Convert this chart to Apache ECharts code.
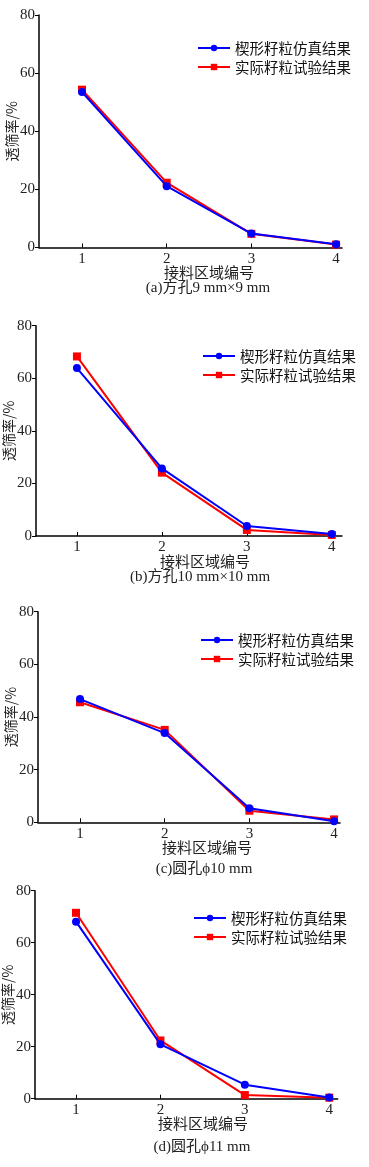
<!DOCTYPE html>
<html>
<head>
<meta charset="utf-8">
<script src="https://cdn.jsdelivr.net/npm/echarts@6/dist/echarts.min.js"></script>
<style>
html,body{margin:0;padding:0;background:#fff;}
#chart{width:369px;height:1167px;}
</style>
</head>
<body>
<div id="chart"></div>
<script>
// ---- data ----
const categories = [1, 2, 3, 4];
const seriesNames = ['楔形籽粒仿真结果', '实际籽粒试验结果'];
const simA = [53.5, 21.1, 4.8, 1.1];
const expA = [54.3, 22.3, 4.7, 1.0];
const simB = [63.9, 25.7, 3.8, 0.8];
const expB = [68.3, 24.1, 2.3, 0.4];
const simC = [46.8, 33.9, 5.3, 0.4];
const expC = [45.6, 35.1, 4.4, 1.1];
const simD = [68.1, 20.9, 5.4, 0.5];
const expD = [71.5, 22.4, 1.4, 0.4];
const yTicks = [0, 20, 40, 60, 80];
const yName = '透筛率/%';
const xName = '接料区域编号';
const captions = ['(a)方孔9 mm×9 mm', '(b)方孔10 mm×10 mm', '(c)圆孔ϕ10 mm', '(d)圆孔ϕ11 mm'];

// ---- layout ----
const panels = [
  {sim: simA, exp: expA, left: 39, right: 342, top: 15, bottom: 247.5, xmin: 0.492, xmax: 4.07, legX: 197, legY: 40, capY: 288, capX: 208, nameX: 209},
  {sim: simB, exp: expB, left: 36, right: 342, top: 325.7, bottom: 536, xmin: 0.518, xmax: 4.12, legX: 202, legY: 348, capY: 577, capX: 200, nameX: 205},
  {sim: simC, exp: expC, left: 38, right: 340, top: 611.7, bottom: 822.3, xmin: 0.504, xmax: 4.07, legX: 200, legY: 632, capY: 869, capX: 204, nameX: 207},
  {sim: simD, exp: expD, left: 35, right: 337.7, top: 890.7, bottom: 1098.7, xmin: 0.514, xmax: 4.10, legX: 193, legY: 910, capY: 1147, capX: 202, nameX: 203}
];

const serif = '"Liberation Serif", "Noto Sans CJK SC", serif';
const cjk = '"Noto Sans CJK SC", "Liberation Serif", sans-serif';
const BLUE = '#0000ff', RED = '#ff0000';

const grid = [], xAxis = [], yAxis = [], series = [], legend = [], graphic = [];
panels.forEach((p, i) => {
  grid.push({left: p.left, top: p.top, width: p.right - p.left, height: p.bottom - p.top, containLabel: false, outerBoundsMode: 'none'});
  xAxis.push({
    type: 'value', gridIndex: i, min: p.xmin, max: p.xmax,
    axisLine: {show: true, lineStyle: {color: '#000', width: 1.5}},
    axisTick: {show: true, inside: true, length: 4, customValues: categories, lineStyle: {color: '#000', width: 1}},
    axisLabel: {customValues: categories, margin: 4, fontFamily: serif, fontSize: 15, color: '#222'},
    splitLine: {show: false}
  });
  yAxis.push({
    type: 'value', gridIndex: i, min: yTicks[0], max: yTicks[yTicks.length - 1], interval: yTicks[1] - yTicks[0],
    name: yName, nameLocation: 'middle', nameGap: 20, nameMoveOverlap: false,
    nameTextStyle: {fontFamily: cjk, fontSize: 14, color: '#222'},
    axisLine: {show: true, lineStyle: {color: '#000', width: 1.5}},
    axisTick: {show: true, inside: false, length: 4, lineStyle: {color: '#000', width: 1}},
    axisLabel: {margin: 4, fontFamily: serif, fontSize: 15, color: '#222'},
    splitLine: {show: false}
  });
  series.push({
    name: seriesNames[1], type: 'line', xAxisIndex: i, yAxisIndex: i,
    data: categories.map((c, k) => [c, p.exp[k]]),
    symbol: 'rect', symbolSize: 8, color: RED,
    lineStyle: {color: RED, width: 2}, itemStyle: {color: RED}, z: 2
  });
  series.push({
    name: seriesNames[0], type: 'line', xAxisIndex: i, yAxisIndex: i,
    data: categories.map((c, k) => [c, p.sim[k]]),
    symbol: 'circle', symbolSize: 8, color: BLUE,
    lineStyle: {color: BLUE, width: 2}, itemStyle: {color: BLUE}, z: 3
  });
  legend.push({
    orient: 'vertical', left: p.legX, top: p.legY, padding: 0, itemWidth: 32, itemHeight: 8, itemGap: 3,
    data: seriesNames.slice(),
    textStyle: {fontFamily: cjk, fontSize: 14.5, color: '#111', lineHeight: 16},
    selectedMode: false
  });
  graphic.push({
    type: 'text', x: p.nameX, y: p.bottom + 25,
    style: {text: xName, font: '15px ' + cjk, fill: '#222', align: 'center', verticalAlign: 'middle'}
  });
  graphic.push({
    type: 'text', x: p.capX, y: p.capY,
    style: {text: captions[i], font: '15px ' + serif, fill: '#222', align: 'center', verticalAlign: 'middle'}
  });
});

const chart = echarts.init(document.getElementById('chart'), null, {renderer: 'canvas'});
chart.setOption({
  animation: false,
  backgroundColor: '#fff',
  grid, xAxis, yAxis, series, legend, graphic
});
</script>
</body>
</html>
